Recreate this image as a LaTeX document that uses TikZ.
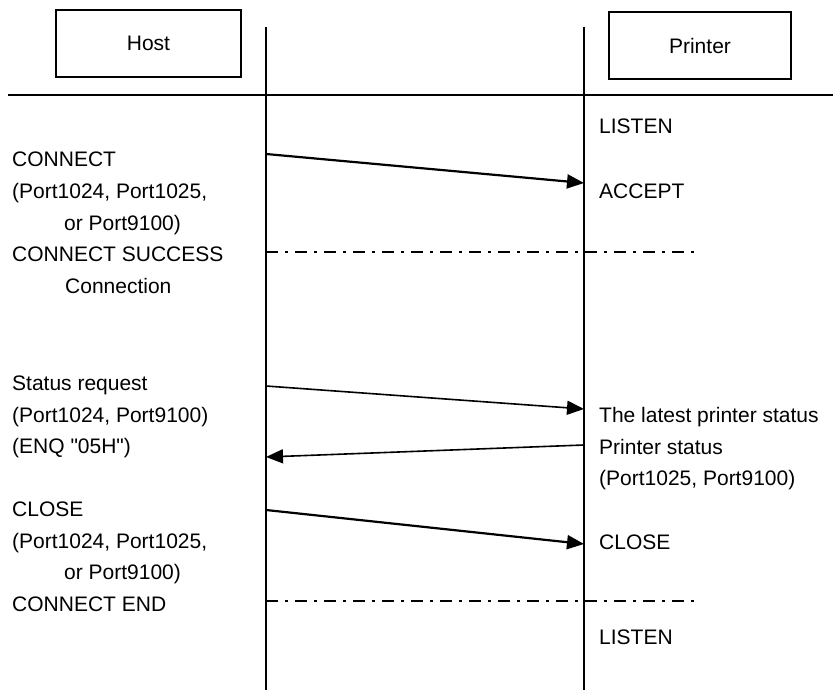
\documentclass[tikz,border=0pt]{standalone}
\usepackage{fontspec}
\setmainfont{Liberation Sans}[Ligatures=TeXOff]
\usetikzlibrary{arrows.meta}
\begin{document}
\begin{tikzpicture}[x=1pt,y=-1pt,
  lbl/.style={anchor=base west,inner sep=0pt,font=\fontsize{21}{31.5}\selectfont},
  actor/.style={draw,line width=1.5pt,minimum height=67pt,inner sep=0pt,font=\fontsize{21}{31.5}\selectfont},
  life/.style={line width=2pt},
  msg/.style={line width=2.2pt,-{Triangle[length=17pt,width=14pt]}},
  thinmsg/.style={line width=1.6pt,-{Triangle[length=17pt,width=14pt]}},
  phase/.style={line width=2pt,dash pattern=on 12pt off 7pt on 3pt off 7pt}]
\useasboundingbox (0,0) rectangle (833,690);
% actors
\node[actor,minimum width=185pt] (host) at (148.5,43.5) {Host};
\node[actor,minimum width=182pt] (printer) at (700,45.5) {Printer};
% lifelines and header rule
\coordinate (hTop) at (266,27);
\coordinate (hBot) at (266,690);
\coordinate (pTop) at (584,27);
\coordinate (pBot) at (584,690);
\coordinate (ruleL) at (8,95);
\coordinate (ruleR) at (833,95);
\draw[life] (hTop) -- (hBot);
\draw[life] (pTop) -- (pBot);
\draw[life] (ruleL) -- (ruleR);
% left texts
\node[lbl] (t1) at (12,167) {CONNECT};
\node[lbl] (t2) at (12,198.5) {(Port1024, Port1025,};
\node[lbl] (t3) at (64,230) {or Port9100)};
\node[lbl] (t4) at (12,261.5) {CONNECT SUCCESS};
\node[lbl] (t5) at (65,293) {Connection};
\node[lbl] (t6) at (12,390.5) {Status request};
\node[lbl] (t7) at (12,422) {(Port1024, Port9100)};
\node[lbl] (t8) at (12,453.5) {(ENQ "05H")};
\node[lbl] (t9) at (12,516.7) {CLOSE};
\node[lbl] (t10) at (12,548.2) {(Port1024, Port1025,};
\node[lbl] (t11) at (64,579.7) {or Port9100)};
\node[lbl] (t12) at (12,611.2) {CONNECT END};
% right texts
\node[lbl] (r1) at (599,133.3) {LISTEN};
\node[lbl] (r2) at (599,198.3) {ACCEPT};
\node[lbl] (r3) at (599,422.7) {The latest printer status};
\node[lbl] (r4) at (599,454.2) {Printer status};
\node[lbl] (r5) at (599,485.7) {(Port1025, Port9100)};
\node[lbl] (r6) at (599,549.3) {CLOSE};
\node[lbl] (r7) at (599,644.3) {LISTEN};
% message points
\coordinate (m1s) at (266,154);
\coordinate (m1e) at (584,183);
\coordinate (m2s) at (266,386);
\coordinate (m2e) at (584,409);
\coordinate (m3s) at (584,445);
\coordinate (m3e) at (266,457);
\coordinate (m4s) at (266,510);
\coordinate (m4e) at (584,544);
\draw[msg] (m1s) -- (m1e);
\draw[thinmsg] (m2s) -- (m2e);
\draw[thinmsg] (m3s) -- (m3e);
\draw[msg] (m4s) -- (m4e);
% phase separators
\coordinate (d1s) at (266,252);
\coordinate (d1e) at (696,252);
\coordinate (d2s) at (266,601);
\coordinate (d2e) at (696,601);
\draw[phase] (d1s) -- (d1e);
\draw[phase] (d2s) -- (d2e);
\end{tikzpicture}
\end{document}
